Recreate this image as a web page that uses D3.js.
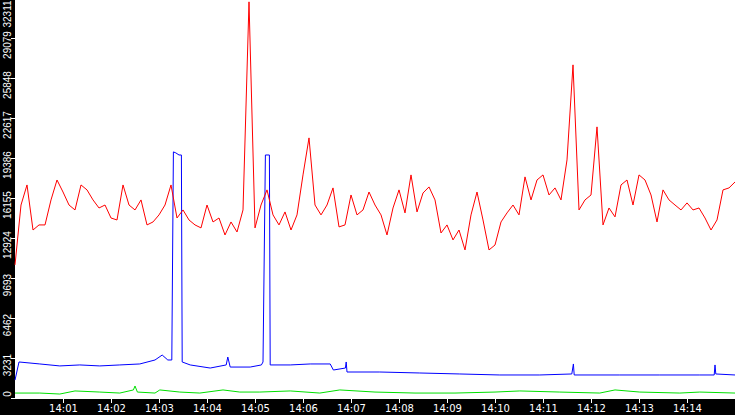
<!DOCTYPE html>
<html>
<head>
<meta charset="utf-8">
<script src="https://cdn.jsdelivr.net/npm/d3@7"></script>
<style>
  body { margin: 0; background: #000; }
  svg { display: block; }
</style>
</head>
<body>
<div id="plot-container"></div>
<script>
// red series: one reading every 7.5 s from 14:00:00
var redStep = 7.5;
var redVals = [10750, 15590, 17210, 13570, 13980, 13980, 16000, 17610, 16640, 15590,
  15190, 17210, 16810, 16000, 15350, 15590, 14540, 14380, 17210, 15590,
  15190, 16000, 13980, 14220, 14790, 15590, 17210, 14540, 15190, 14380,
  13980, 13740, 15590, 14220, 14540, 13170, 14220, 13410, 15190, 32000,
  13740, 15590, 16810, 14790, 13980, 15030, 13570, 14790, 18020, 21010,
  15590, 14790, 15590, 16970, 13820, 13980, 16400, 14790, 15190, 16640,
  15590, 14790, 13170, 15350, 16810, 14950, 18020, 15030, 16560, 17050,
  16000, 13330, 13980, 12770, 13570, 11960, 14790, 16640, 14380, 11960,
  12360, 14220, 14950, 15590, 14790, 17860, 16000, 17610, 18020, 16400,
  16970, 16000, 19230, 26910, 15190, 16000, 16400, 21900, 13980, 15350,
  14630, 17210, 17610, 15590, 18020, 17610, 16400, 14220, 16810, 16000,
  15590, 15190, 15760, 15190, 15350, 14540, 13570, 14380, 16810, 16970,
  17450];

// blue series: seconds after 14:00 and values
var blueSecs = [0, 5, 31, 56, 81, 106, 131, 156, 175, 184, 191, 196, 198, 201, 205, 208, 209,
  219, 244, 264, 266, 269, 294, 308, 310, 313, 318, 319, 344, 369, 394, 398, 413, 414, 415,
  456, 506, 556, 606, 656, 696, 698, 699, 756, 806, 856, 874, 875, 876, 900];
var blueVals = [1450, 2910, 2750, 2590, 2670, 2590, 2670, 2750, 3070, 3470, 3070, 3070, 19880, 19800, 19630, 19630, 2910,
  2670, 2420, 2670, 3310, 2500, 2500, 2670, 2910, 19630, 19630, 2670, 2670, 2750, 2750, 2260, 2420, 2910, 2100,
  2100, 2020, 1940, 1860, 1860, 1940, 2750, 1860, 1860, 1860, 1860, 1860, 2670, 1940, 1860];

// green series
var greenSecs = [0, 31, 56, 75, 106, 131, 148, 150, 153, 175, 181, 206, 231, 260, 281, 306,
  344, 381, 406, 450, 500, 550, 600, 631, 681, 731, 750, 781, 831, 856, 900];
var greenVals = [400, 400, 320, 570, 480, 400, 650, 970, 480, 400, 650, 480, 400, 650, 480, 480,
  570, 400, 650, 480, 400, 400, 480, 570, 480, 400, 650, 480, 400, 480, 400];

var yTicks = [0, 3231, 6462, 9693, 12924, 16155, 19386, 22617, 25848, 29079, 32311];
var xTickLabels = ["14:01", "14:02", "14:03", "14:04", "14:05", "14:06", "14:07",
  "14:08", "14:09", "14:10", "14:11", "14:12", "14:13", "14:14"];

var W = 735, H = 415, left = 15, bottom = 398;
var t0 = new Date(2020, 0, 1, 14, 0, 0);
function sec(s) { return new Date(t0.getTime() + s * 1000); }

var x = d3.scaleTime().domain([t0, sec(900)]).range([left, W]);
var y = d3.scaleLinear().domain([0, 32311]).range([bottom, -2]);

var svg = d3.select("#plot-container").append("svg")
  .attr("width", W).attr("height", H)
  .style("background-color", "#000");

svg.append("rect").attr("x", left).attr("y", 0)
  .attr("width", W - left).attr("height", bottom).attr("fill", "#fff");

var line = d3.line().x(function (d) { return x(d[0]); }).y(function (d) { return y(d[1]); });

var series = [
  { pts: greenVals.map(function (v, i) { return [sec(greenSecs[i]), v]; }), color: "#00e000" },
  { pts: blueVals.map(function (v, i) { return [sec(blueSecs[i]), v]; }), color: "#0000ff" },
  { pts: redVals.map(function (v, i) { return [sec(i * redStep), v]; }), color: "#ff0000" }
];
svg.selectAll("path.series").data(series).enter().append("path")
  .attr("class", "series")
  .attr("d", function (d) { return line(d.pts); })
  .attr("fill", "none")
  .attr("stroke", function (d) { return d.color; })
  .attr("stroke-width", 1);

// bottom axis
svg.append("line").attr("x1", left).attr("x2", W).attr("y1", bottom + 0.5).attr("y2", bottom + 0.5)
  .attr("stroke", "#fff");
var xt = svg.selectAll("g.xt").data(xTickLabels).enter().append("g")
  .attr("transform", function (d, i) { return "translate(" + (Math.round(x(sec((i + 1) * 60))) + 0.5) + ",0)"; });
xt.append("line").attr("y1", bottom).attr("y2", bottom + 5).attr("stroke", "#fff");
xt.append("text").attr("y", 412).attr("text-anchor", "middle")
  .attr("fill", "#fff").attr("font-family", "DejaVu Sans").attr("font-size", 10)
  .text(function (d) { return d; });

// left axis
var yt = svg.selectAll("g.yt").data(yTicks).enter().append("g");
yt.append("line").attr("x1", 11).attr("x2", left)
  .attr("y1", function (d) { return Math.round(y(d)) + 0.5; })
  .attr("y2", function (d) { return Math.round(y(d)) + 0.5; })
  .attr("stroke", "#fff");
yt.append("text")
  .attr("transform", function (d) {
    var c = Math.max(14, Math.min(395, y(d) + 7));
    if (d === 0) c = 394;
    return "translate(11," + c + ") rotate(-90)";
  })
  .attr("text-anchor", "middle")
  .attr("fill", "#fff").attr("font-family", "Liberation Sans").attr("font-size", 10)
  .text(function (d) { return d; });
</script>
</body>
</html>
